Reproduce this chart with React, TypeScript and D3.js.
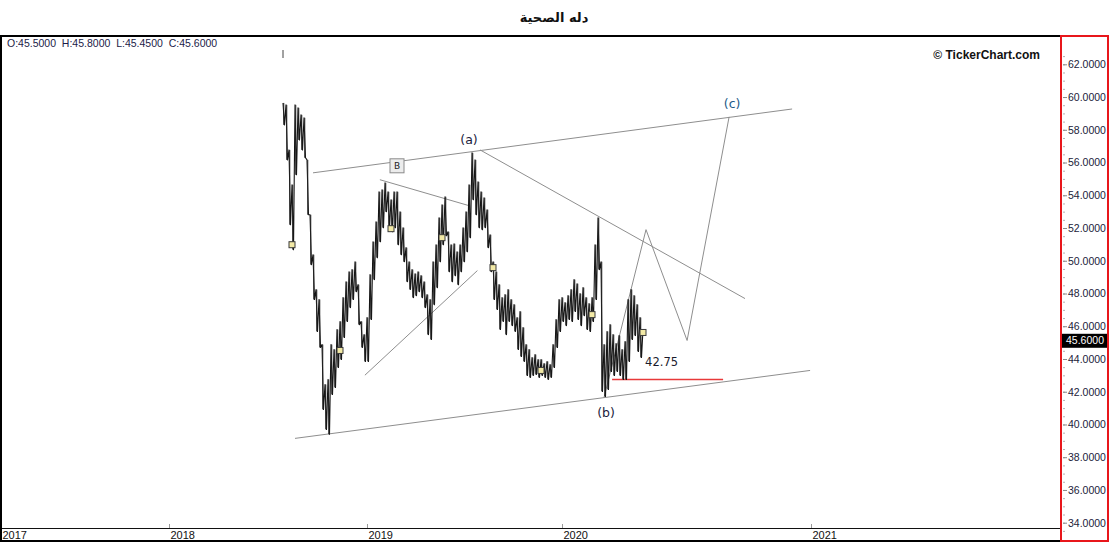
import React, { useRef, useEffect } from 'react';
import * as d3 from 'd3';

// bar index 0 = first bar of the series (mid 2018), one sample per ~4 sessions
const yearLabels = ['2017', '2018', '2019', '2020', '2021'];
const yearBarIndex = [-94, -38, 28, 93, 176];

const priceHigh = [
  59.64, 59.52, 56.77, 54.64, 59.52, 59.34, 58.91, 58.73, 56.16, 52.81,
  50.37, 48.24, 47.63, 44.88, 42.44, 42.75, 44.88, 44.58, 45.80, 46.29,
  47.75, 48.72, 49.33, 49.46, 49.94, 48.54, 46.29, 45.49, 46.53, 49.15,
  51.16, 52.38, 54.21, 54.34, 54.76, 54.21, 53.73, 54.21, 54.21, 52.99,
  52.02, 50.80, 49.94, 49.46, 49.21, 49.33, 49.09, 48.72, 47.93, 47.63,
  49.94, 50.98, 52.63, 53.42, 53.91, 51.77, 50.98, 51.04, 50.55, 50.98,
  52.02, 52.99, 54.64, 56.59, 56.16, 54.82, 54.21, 53.85, 53.12, 51.59,
  49.94, 49.33, 48.54, 47.75, 47.93, 48.24, 47.63, 47.32, 46.53, 46.90,
  45.92, 44.88, 44.58, 44.09, 44.27, 43.97, 43.97, 43.72, 43.85, 43.66,
  44.88, 46.41, 47.63, 47.75, 47.44, 47.87, 48.24, 48.85, 48.60, 47.99,
  48.36, 47.75, 47.38, 47.75, 50.98, 52.63, 49.94, 44.88, 45.68, 46.10,
  45.49, 44.94, 45.43, 44.58, 45.07, 47.63, 48.24, 47.87, 47.32, 46.53,
  45.80,
];

const priceLow = [
  58.30, 56.16, 52.20, 50.68, 55.25, 57.38, 56.77, 56.29, 52.81, 49.76,
  47.63, 45.68, 44.70, 40.92, 39.70, 39.40, 41.83, 42.26, 43.48, 43.97,
  45.31, 46.29, 47.14, 47.63, 48.11, 46.10, 44.70, 43.85, 43.85, 46.41,
  48.85, 50.19, 51.16, 52.02, 52.99, 52.02, 51.77, 52.02, 50.98, 50.37,
  49.94, 48.72, 48.24, 47.75, 47.87, 48.11, 47.75, 47.14, 45.49, 45.19,
  47.32, 48.36, 49.94, 50.98, 51.53, 49.33, 48.72, 49.09, 48.54, 49.33,
  49.94, 50.55, 51.41, 53.73, 52.81, 52.02, 51.90, 52.02, 50.80, 49.33,
  47.63, 47.02, 45.80, 46.29, 45.49, 46.29, 46.04, 45.68, 44.58, 44.15,
  43.85, 42.99, 42.87, 42.99, 43.05, 42.87, 42.99, 42.87, 42.75, 42.87,
  43.48, 44.70, 45.68, 46.29, 46.04, 46.41, 46.29, 46.90, 46.41, 46.04,
  46.65, 45.80, 45.68, 46.29, 47.63, 49.46, 42.02, 41.71, 42.14, 43.24,
  42.99, 43.24, 42.99, 42.75, 42.75, 43.85, 45.19, 45.43, 44.46, 44.09,
  45.45,
];

const markerBars = [3, 19, 36, 53, 70, 86, 103, 120];
const markerValues = [50.98, 44.52, 51.96, 51.41, 49.58, 43.30, 46.71, 45.62];

const trendLines: [number, number][][] = [
  [[10, 55.37], [169.7, 59.27]],
  [[4, 39.15], [175.7, 43.3]],
  [[65.7, 56.77], [154, 47.69]],
  [[32.3, 54.95], [62.1, 53.36]],
  [[27.3, 43.01], [64.8, 49.4]],
  [[107, 41.65], [121, 51.9], [134.7, 45.13], [148.7, 58.79]],
];
const supportLine: [number, number][] = [[109.7, 42.75], [146.7, 42.75]];
const supportLabel = '42.75';

const waveLabels = [
  { text: '(a)', bar: 62, value: 57.38, color: '#1b1b3c' },
  { text: '(b)', bar: 107.7, value: 40.74, color: '#1b1b3c' },
  { text: '(c)', bar: 149.7, value: 59.58, color: '#1d5a88' },
];

const yTicks = d3.range(34, 62.01, 2);
const yMinorTicks = d3.range(33.5, 63, 0.5);

const ohlc = { O: 45.5, H: 45.8, L: 45.45, C: 45.6 };
const title = 'دله الصحية';

const W = 1111;
const H = 542;

const App: React.FC = () => {
  const svgRef = useRef<SVGSVGElement | null>(null);

  useEffect(() => {
    if (!svgRef.current) return;
    const svg = d3.select(svgRef.current);
    svg.selectAll('*').remove();

    const plotLeft = 1;
    const plotRight = 1060;
    const top = 36;
    const axisY = 528;

    const x = d3.scaleLinear().domain([-94, 259]).range([plotLeft, plotRight]);
    const y = d3.scaleLinear().domain([34, 62]).range([522.7, 64.3]);

    svg.append('rect').attr('width', W).attr('height', H).attr('fill', '#fff');

    // title
    svg.append('text')
      .attr('x', 554).attr('y', 22)
      .attr('text-anchor', 'middle')
      .style('font-family', '"DejaVu Sans", sans-serif')
      .style('font-weight', 'bold')
      .style('font-size', '13px')
      .attr('fill', '#111')
      .text(title);

    const g = svg.append('g');

    // trend lines
    const line = d3.line<[number, number]>().x(d => x(d[0])).y(d => y(d[1]));
    g.selectAll('.trend')
      .data(trendLines)
      .enter()
      .append('path')
      .attr('d', d => line(d))
      .attr('fill', 'none')
      .attr('stroke', '#8e8e8e')
      .attr('stroke-width', 1);

    g.append('path')
      .attr('d', line(supportLine))
      .attr('stroke', '#e8383a')
      .attr('stroke-width', 1.4)
      .attr('fill', 'none');

    // price: sawtooth between highs and lows, like packed daily bars
    const pts: [number, number][] = [];
    priceHigh.forEach((h, i) => {
      pts.push([i, h]);
      pts.push([i + 0.5, priceLow[i]]);
    });
    g.append('path')
      .attr('d', line(pts))
      .attr('fill', 'none')
      .attr('stroke', '#151515')
      .attr('stroke-width', 1.1)
      .attr('stroke-linejoin', 'round');

    g.selectAll('.bar')
      .data(priceHigh)
      .enter()
      .append('line')
      .attr('x1', (_, i) => x(i + 0.25))
      .attr('x2', (_, i) => x(i + 0.25))
      .attr('y1', d => y(d))
      .attr('y2', (_, i) => y(priceLow[i]))
      .attr('stroke', '#222')
      .attr('stroke-width', 1);

    // event markers
    g.selectAll('.marker')
      .data(markerBars)
      .enter()
      .append('rect')
      .attr('x', d => x(d) - 3)
      .attr('y', (_, i) => y(markerValues[i]) - 3)
      .attr('width', 6)
      .attr('height', 6)
      .attr('fill', '#f2e9a6')
      .attr('stroke', '#3a3a3a')
      .attr('stroke-width', 1);

    // wave labels
    g.selectAll('.wave')
      .data(waveLabels)
      .enter()
      .append('text')
      .attr('x', d => x(d.bar))
      .attr('y', d => y(d.value))
      .attr('dy', '0.35em')
      .attr('text-anchor', 'middle')
      .style('font-family', '"DejaVu Sans", sans-serif')
      .style('font-size', '12.5px')
      .attr('fill', d => d.color)
      .text(d => d.text);

    // "B" box
    const bx = x(38), by = y(55.8);
    g.append('rect')
      .attr('x', bx - 7).attr('y', by - 7)
      .attr('width', 14).attr('height', 14)
      .attr('fill', '#ececec').attr('stroke', '#8a8a8a');
    g.append('text')
      .attr('x', bx).attr('y', by).attr('dy', '0.36em')
      .attr('text-anchor', 'middle')
      .style('font-family', '"DejaVu Sans", sans-serif')
      .style('font-size', '9px')
      .attr('fill', '#222')
      .text('B');

    g.append('text')
      .attr('x', x(120.7)).attr('y', y(43.79)).attr('dy', '0.35em')
      .style('font-family', '"DejaVu Sans", sans-serif')
      .style('font-size', '11.5px')
      .attr('fill', '#1b1b2c')
      .text(supportLabel);

    // small mark above first bar
    g.append('line')
      .attr('x1', x(0)).attr('x2', x(0))
      .attr('y1', 50).attr('y2', 58)
      .attr('stroke', '#444');

    // OHLC header
    const fmt = d3.format('.4f');
    svg.append('text')
      .attr('x', 7).attr('y', 47)
      .style('font-family', '"Liberation Sans", Arial, sans-serif')
      .style('font-size', '10.5px')
      .style('white-space', 'pre')
      .attr('fill', '#1c1c48')
      .text(`O:${fmt(ohlc.O)}  H:${fmt(ohlc.H)}  L:${fmt(ohlc.L)}  C:${fmt(ohlc.C)}`);

    // watermark
    svg.append('text')
      .attr('x', 1040).attr('y', 59)
      .attr('text-anchor', 'end')
      .style('font-family', '"Liberation Sans", Arial, sans-serif')
      .style('font-weight', 'bold')
      .style('font-size', '12px')
      .attr('fill', '#111')
      .text('© TickerChart.com');

    // bottom time axis
    const xAxis = d3.axisBottom(x)
      .tickValues(yearBarIndex)
      .tickSize(-4)
      .tickPadding(3)
      .tickFormat((_, i) => yearLabels[i]);
    const xg = svg.append('g')
      .attr('transform', `translate(0, ${axisY})`)
      .call(xAxis);
    xg.select('.domain').remove();
    xg.selectAll('.tick line').attr('stroke', '#9a9a9a');
    xg.selectAll('text')
      .attr('text-anchor', 'start')
      .attr('dx', 1)
      .style('font-family', '"Liberation Sans", Arial, sans-serif')
      .style('font-size', '11px')
      .attr('fill', '#111');

    svg.append('line')
      .attr('x1', 0).attr('x2', plotRight)
      .attr('y1', axisY + 0.5).attr('y2', axisY + 0.5)
      .attr('stroke', '#111');

    // right price axis
    const axisX = 1063;
    const yMinor = d3.axisRight(y).tickValues(yMinorTicks).tickSize(2).tickFormat(() => '');
    const ymg = svg.append('g').attr('transform', `translate(${axisX}, 0)`).call(yMinor);
    ymg.select('.domain').remove();
    ymg.selectAll('.tick line').attr('stroke', '#b0b0b0');

    const yAxis = d3.axisRight(y).tickValues(yTicks).tickSize(4).tickPadding(1).tickFormat(d => fmt(d as number));
    const yg = svg.append('g').attr('transform', `translate(${axisX}, 0)`).call(yAxis);
    yg.select('.domain').remove();
    yg.selectAll('.tick line').attr('stroke', '#8a8a8a');
    yg.selectAll('text')
      .style('font-family', '"Liberation Sans", Arial, sans-serif')
      .style('font-size', '10.5px')
      .attr('fill', '#1c1c3a');

    // last price box
    const lastY = y(ohlc.C);
    svg.append('rect')
      .attr('x', axisX - 1).attr('y', lastY + 1)
      .attr('width', 46).attr('height', 14)
      .attr('fill', '#000');
    svg.append('text')
      .attr('x', axisX + 22).attr('y', lastY + 8).attr('dy', '0.35em')
      .attr('text-anchor', 'middle')
      .style('font-family', '"Liberation Sans", Arial, sans-serif')
      .style('font-size', '10.5px')
      .attr('fill', '#fff')
      .text(fmt(ohlc.C));

    // frame
    svg.append('line').attr('x1', 0).attr('x2', plotRight).attr('y1', top).attr('y2', top)
      .attr('stroke', '#000').attr('stroke-width', 2);
    svg.append('line').attr('x1', 1).attr('x2', 1).attr('y1', top).attr('y2', 541)
      .attr('stroke', '#000').attr('stroke-width', 2);
    svg.append('line').attr('x1', 0).attr('x2', plotRight).attr('y1', 541).attr('y2', 541)
      .attr('stroke', '#000').attr('stroke-width', 2);
    svg.append('rect')
      .attr('x', 1061).attr('y', top)
      .attr('width', 47).attr('height', 541 - top)
      .attr('fill', 'none')
      .attr('stroke', '#e8161b')
      .attr('stroke-width', 2);
  }, []);

  return (
    <svg
      ref={svgRef}
      width={W}
      height={H}
      style={{ position: 'absolute', left: 0, top: 0, display: 'block' }}
    ></svg>
  );
};

export default App;
